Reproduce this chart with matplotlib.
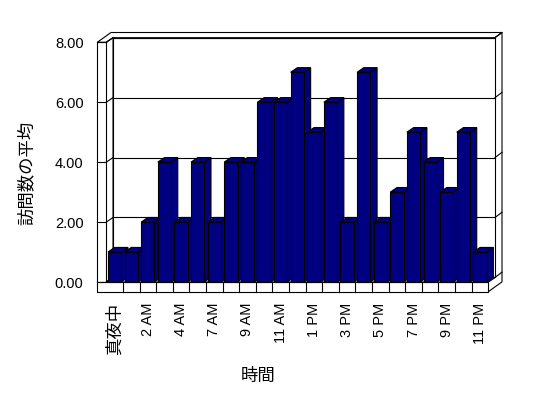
import matplotlib
matplotlib.use('Agg')
import matplotlib.pyplot as plt
from matplotlib.patches import Polygon, Rectangle

# ---- data ----
hours = ['真夜中', '1 AM', '2 AM', '3 AM', '4 AM', '5 AM', '7 AM', '8 AM', '9 AM',
         '10 AM', '11 AM', '正午', '1 PM', '2 PM', '3 PM', '4 PM', '5 PM', '6 PM',
         '7 PM', '8 PM', '9 PM', '10 PM', '11 PM']
visits = [1, 1, 2, 4, 2, 4, 2, 4, 4, 6, 6, 7, 5, 6, 2, 7, 2, 3, 5, 4, 3, 5, 1]
yticks = [0, 2, 4, 6, 8]
ytick_labels = ['0.00', '2.00', '4.00', '6.00', '8.00']
x_title = '時間'
y_title = '訪問数の平均'

plt.rcParams['font.family'] = ['Liberation Sans', 'Noto Sans CJK JP', 'DejaVu Sans']

W, H = 548, 398
fig = plt.figure(figsize=(W / 100, H / 100), dpi=100)
fig.patch.set_facecolor('white')

# front plane of the 3D box (pixels)
L, R = 106.3, 488.3
B0, T8 = 282.0, 42.3
n = len(hours)
YMAX = 8
ax = fig.add_axes([L / W, 1 - B0 / H, (R - L) / W, (B0 - T8) / H])
ax.set_xlim(-0.5, n - 0.5)
ax.set_ylim(0, YMAX)
for s in ax.spines.values():
    s.set_visible(False)
ax.patch.set_visible(False)

def dpx(dx, dy):
    return dx * (n / (R - L)), dy * (YMAX / (B0 - T8))

DX1, DY1 = dpx(6.7, 4.6)
DX2, DY2 = dpx(13.7, 9.8)
LW = dpx(9.0, 0)[0]
FT = dpx(0, 9.7)[1]
x0, x1 = -0.5, n - 0.5

lw = 0.8
kw = dict(facecolor='white', edgecolor='black', linewidth=lw, clip_on=False)

# back wall slab top and right faces
ax.add_patch(Polygon([(x0 - LW, YMAX), (x0, YMAX), (x0 + DX1, YMAX + DY1),
                      (x1 + DX1, YMAX + DY1), (x1 + DX2, YMAX + DY2),
                      (x0 - LW + DX2, YMAX + DY2)], zorder=1, **kw))
ax.add_patch(Polygon([(x1 + DX1, YMAX + DY1), (x1 + DX2, YMAX + DY2),
                      (x1 + DX2, -FT + DY2), (x1, -FT), (x1, 0),
                      (x1 + DX1, DY1)], zorder=1, **kw))
# back wall inner face
ax.add_patch(Rectangle((x0 + DX1, DY1), x1 - x0, YMAX, zorder=2, **kw))
# left wall inner face and front face
ax.add_patch(Polygon([(x0, 0), (x0, YMAX), (x0 + DX1, YMAX + DY1), (x0 + DX1, DY1)],
                     zorder=2, **kw))
ax.add_patch(Rectangle((x0 - LW, 0), LW, YMAX, zorder=2, **kw))
# floor top and front
ax.add_patch(Polygon([(x0, 0), (x1, 0), (x1 + DX1, DY1), (x0 + DX1, DY1)], zorder=2, **kw))
ax.add_patch(Rectangle((x0 - LW, -FT), x1 - x0 + LW, FT, zorder=2, **kw))
for k in range(1, n):
    ax.plot([x0 + k, x0 + k], [-FT, 0], color='black', lw=lw, clip_on=False, zorder=3)

# gridlines on walls
for v in yticks:
    ax.plot([x0 + DX1, x1 + DX1], [v + DY1, v + DY1], color='black', lw=lw, clip_on=False, zorder=3)
    ax.plot([x0, x0 + DX1], [v, v + DY1], color='black', lw=lw, clip_on=False, zorder=3)
    ax.plot([x0 - LW, x0], [v, v], color='black', lw=lw, clip_on=False, zorder=3)
    ax.plot([x1 + DX1, x1 + DX2], [v + DY1, v + DY2], color='black', lw=lw, clip_on=False, zorder=3)

# bars
BW = 0.8
navy = '#000080'
xs = list(range(n))
bars = ax.bar(xs, visits, width=BW, color=navy, edgecolor='black', linewidth=lw)
for i, (rect, v) in enumerate(zip(bars, visits)):
    z = 10 + i
    rect.set_zorder(z + 0.5)
    rect.set_clip_on(False)
    xl = rect.get_x()
    xr = xl + rect.get_width()
    ax.add_patch(Polygon([(xr, 0), (xr, v), (xr + DX1, v + DY1), (xr + DX1, DY1)],
                         facecolor=navy, edgecolor='black', linewidth=lw, zorder=z, clip_on=False))
    ax.add_patch(Polygon([(xl, v), (xr, v), (xr + DX1, v + DY1), (xl + DX1, v + DY1)],
                         facecolor=navy, edgecolor='black', linewidth=lw, zorder=z, clip_on=False))

# ticks
ax.set_xticks(xs[::2])
ax.set_xticklabels(hours[::2], rotation=90, fontsize=10.5)
for t in ax.get_xticklabels():
    if not t.get_text().isascii():
        t.set_fontsize(12.5)
ax.set_yticks(yticks)
ax.set_yticklabels(ytick_labels, fontsize=10.5)
ax.tick_params(axis='x', length=0, pad=15)
ax.tick_params(axis='y', length=0, pad=16.4)

fig.text(26.5 / W, 1 - 173 / H, y_title, rotation=90, ha='center', va='center',
         fontsize=12.5, family=['Noto Sans CJK JP'])
fig.text(258.3 / W, 1 - 375.5 / H, x_title, ha='center', va='center',
         fontsize=12.5, family=['Noto Sans CJK JP'])

fig.savefig('out.png', dpi=100, facecolor='white')
